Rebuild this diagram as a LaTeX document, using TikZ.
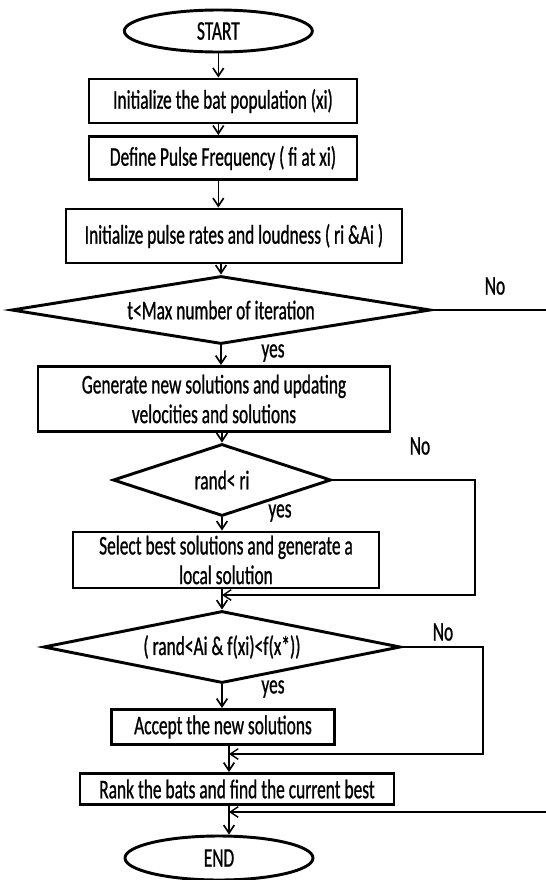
\documentclass[tikz,border=0pt]{standalone}
\usepackage{fontspec}
\setmainfont{Carlito}[FakeStretch=0.645,FakeBold=0.8]
\usepackage{tikz}
\usetikzlibrary{shapes.geometric,arrows.meta,positioning}

\begin{document}
\begin{tikzpicture}[
    font=\fontsize{23}{25.3}\selectfont,
    pbox/.style={rectangle, draw=black, line width=2.5pt, align=center, inner sep=2pt},
    term/.style={ellipse, draw=black, line width=2.5pt, minimum width=5.64cm, minimum height=1.26cm, inner sep=0pt},
    cond/.style={diamond, draw=black, line width=2.5pt, align=center, inner sep=0pt},
    arrow/.style={-{Straight Barb[length=2.4mm,width=3.2mm]}, line width=1.4pt},
    back/.style={-{Straight Barb[length=2.4mm,width=3.2mm]}, line width=1.2pt},
    lbl/.style={inner sep=0pt},
]
\useasboundingbox (0,0) rectangle (16.38,-26.4);

\node[term] (start) at (6.55,-0.93) {START};
\node[pbox, minimum width=8.04cm, minimum height=1.32cm] (init)  at (6.69,-3.03) {Initialize the bat population (xi)};
\node[pbox, minimum width=8.04cm, minimum height=1.29cm] (pulse) at (6.69,-4.74) {Define Pulse Frequency ( fi at xi)};
\node[pbox, minimum width=10.08cm, minimum height=1.62cm] (rates) at (7.02,-7.08) {Initialize pulse rates and loudness ( ri \&Ai )};
\node[cond, minimum width=12.57cm, minimum height=2.04cm, aspect=6] (iter) at (6.63,-9.30) {t<Max number of iteration};
\node[pbox, minimum width=10.56cm, minimum height=1.95cm] (gen) at (6.42,-11.97) {Generate new solutions  and updating\\velocities and solutions};
\node[cond, minimum width=6.54cm, minimum height=2.16cm, aspect=3] (rand) at (6.66,-14.40) {rand< ri};
\node[pbox, minimum width=9.18cm, minimum height=1.68cm] (local) at (6.78,-16.80) {Select best solutions and generate a\\local solution};
\node[cond, minimum width=10.71cm, minimum height=2.16cm, aspect=5] (accept) at (6.66,-19.41) {( rand<Ai \& f(xi)<f(x*))};
\node[pbox, minimum width=6.69cm, minimum height=1.05cm] (acc) at (6.69,-21.81) {Accept the new solutions};
\node[pbox, minimum width=9.42cm, minimum height=0.93cm] (rank) at (7.11,-23.67) {Rank the bats and find the current best};
\node[term, minimum height=1.32cm] (end) at (6.57,-25.74) {END};

% joins of the No branches
\coordinate (j1) at (6.66,-17.85);
\coordinate (j2) at (6.87,-22.62);
\coordinate (j3) at (6.87,-24.36);

\draw[arrow] (start.south) -- (start.south |- init.north);
\draw[arrow] (init.south -| start) -- (pulse.north -| start);
\draw[arrow] (pulse.south -| start) -- (rates.north -| start);
\draw[arrow] (rates.south -| iter) -- (iter.north);
\draw[arrow] (iter.south) -- (iter.south |- gen.north);
\draw[arrow] (gen.south -| rand) -- (rand.north);
\draw[arrow] (rand.south) -- (rand.south |- local.north);
\draw[arrow] (local.south -| accept) -- (accept.north);
\draw[arrow] (accept.south) -- (accept.south |- acc.north);
\draw[arrow] (acc.south -| j2) -- (rank.north -| j2);
\draw[arrow] (rank.south -| j2) -- (end.north -| j2);

% No branches
\draw[back] (iter.east) -- ++(5,0) |- (j3);
\draw[back] (rand.east) -- (14.25,-14.40) |- (j1);
\draw[back] (accept.east) -- (14.49,-19.41) |- (j2);

\node[lbl] (no1) at (14.85,-8.58) {No};
\node[lbl] (no2) at (12.60,-13.38) {No};
\node[lbl] (no3) at (13.29,-18.96) {No};
\node[lbl] (yes1) at (8.19,-10.59) {yes};
\node[lbl] (yes2) at (8.40,-15.39) {yes};
\node[lbl] (yes3) at (8.19,-20.67) {yes};
\end{tikzpicture}
\end{document}
